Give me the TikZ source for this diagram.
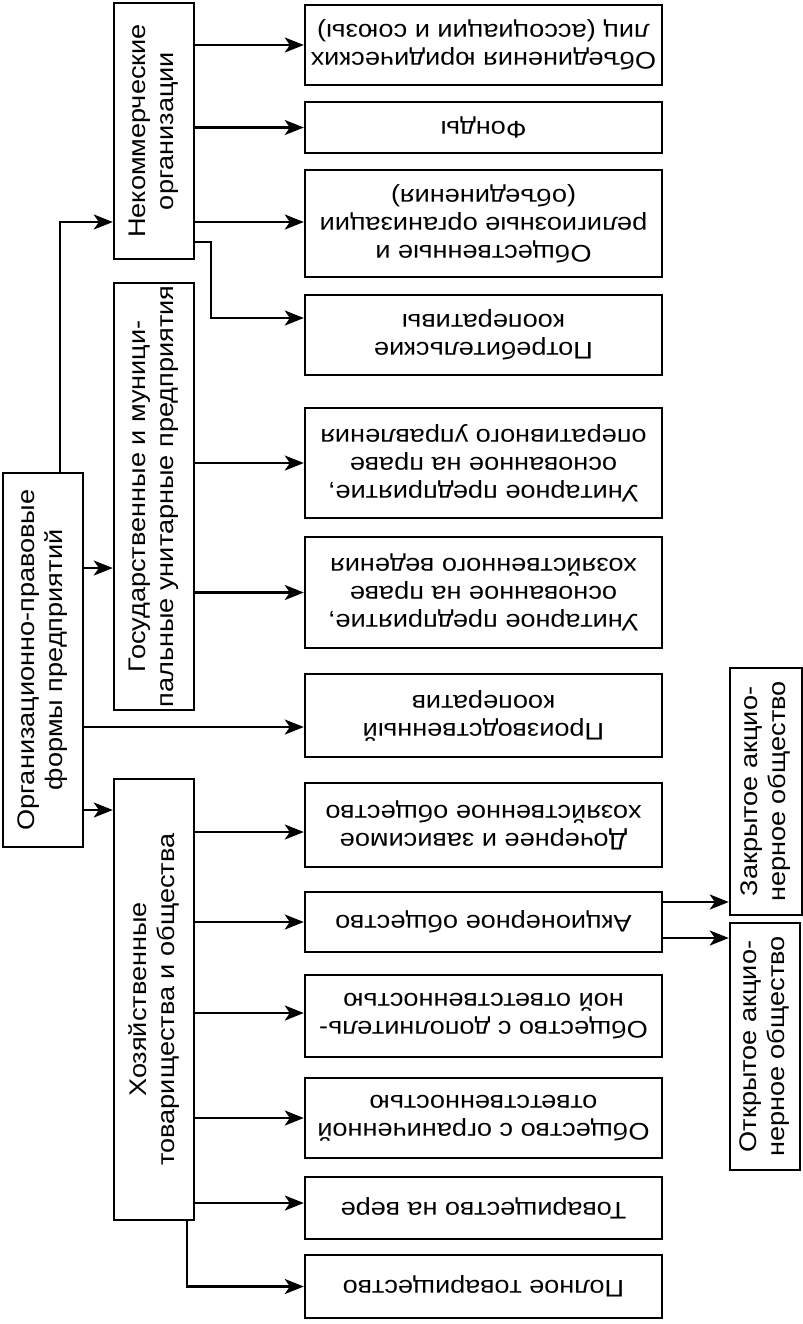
\documentclass[tikz,border=0pt]{standalone}
\usepackage{fontspec}
\setmainfont{Liberation Sans}[FakeStretch=1.13]
\usetikzlibrary{arrows.meta}

\tikzset{
  box/.style={draw, rectangle, line width=1.2pt, inner sep=1pt, align=center,
    font=\fontsize{12}{14}\selectfont},
  typebox/.style={box, rotate=90, minimum height=40pt},
  formbox/.style={box, rotate=180, minimum width=178.5pt},
  arr/.style={line width=1.1pt, -{Stealth[length=9.5pt,width=7.5pt,inset=2.5pt]}}
}

\begin{document}
\begin{tikzpicture}[x=0.5pt, y=-0.5pt]
	\useasboundingbox (0,0) rectangle (803,1324);

	% root and groups
	\node (root) [typebox, minimum width=187pt] at (43,660) {Организационно-правовые\\формы предприятий};
	\node (neko) [typebox, minimum width=128pt] at (154,131) {Некоммерческие\\организации};
	\node (gos) [typebox, minimum width=213.5pt] at (154,496.5) {Государственные и муници-\\пальные унитарные предприятия};
	\node (hoz) [typebox, minimum width=220.5pt] at (154,999.5) {Хозяйственные\\товарищества и общества};

	% forms
	\node (ojur) [formbox, minimum height=40pt] at (483.5,45) {Объединения юридических\\лиц (ассоциации и союзы)};
	\node (fond) [formbox, minimum height=25.5pt] at (483.5,127.5) {Фонды};
	\node (obsh) [formbox, minimum height=53.5pt] at (483.5,223.5) {Общественные и\\религиозные организации\\(объединения)};
	\node (potr) [formbox, minimum height=40pt] at (483.5,335) {Потребительские\\кооперативы};
	\node (unop) [formbox, minimum height=55pt] at (483.5,463) {Унитарное предприятие,\\основанное на праве\\оперативного управления};
	\node (unhz) [formbox, minimum height=55.5pt] at (483.5,592.5) {Унитарное предприятие,\\основанное на праве\\хозяйственного ведения};
	\node (proiz) [formbox, minimum height=41.5pt] at (483.5,715.5) {Производственный\\кооператив};
	\node (doch) [formbox, minimum height=42pt] at (483.5,825) {Дочернее и зависимое\\хозяйственное общество};
	\node (akc) [formbox, minimum height=30pt] at (483.5,922) {Акционерное общество};
	\node (odo) [formbox, minimum height=41pt] at (483.5,1016) {Общество с дополнитель-\\ной ответственностью};
	\node (ooo) [formbox, minimum height=40pt] at (483.5,1118) {Общество с ограниченной\\ответственностью};
	\node (tnv) [formbox, minimum height=31pt] at (483.5,1208) {Товарищество на вере};
	\node (ptov) [formbox, minimum height=31.5pt] at (483.5,1286.5) {Полное товарищество};

	% joint-stock types
	\node (zao) [box, rotate=90, minimum width=123.5pt, minimum height=36pt] at (766,791.5) {Закрытое акцио-\\нерное общество};
	\node (oao) [box, rotate=90, minimum width=123.5pt, minimum height=35pt] at (765,1046.5) {Открытое акцио-\\нерное общество};

	% root connections
	\draw[arr] (root.east -| 60,0) |- (neko.north |- 0,222);
	\draw[arr] (root.south |- 0,568) -- (gos.north |- 0,568);
	\draw[arr] (root.south |- 0,727) -- (proiz.east |- 0,727);
	\draw[arr] (root.south |- 0,810) -- (hoz.north |- 0,810);

	% non-commercial
	\draw[arr] (neko.south |- ojur.east) -- (ojur.east);
	\draw[arr] (neko.south |- fond.east) -- (fond.east);
	\draw[arr] (neko.south |- 0,222) -- (obsh.east |- 0,222);
	\draw[arr] (neko.south |- 0,242) -| (211,318) -- (potr.east |- 0,318);

	% unitary
	\draw[arr] (gos.south |- unop.east) -- (unop.east);
	\draw[arr] (gos.south |- unhz.east) -- (unhz.east);

	% partnerships and companies
	\draw[arr] (hoz.south |- 0,832) -- (doch.east |- 0,832);
	\draw[arr] (hoz.south |- akc.east) -- (akc.east);
	\draw[arr] (hoz.south |- 0,1013) -- (odo.east |- 0,1013);
	\draw[arr] (hoz.south |- ooo.east) -- (ooo.east);
	\draw[arr] (hoz.south |- 0,1203) -- (tnv.east |- 0,1203);
	\draw[arr] (hoz.west -| 187,0) |- (ptov.east);

	\draw[arr] (akc.west |- 0,902) -- (zao.north |- 0,902);
	\draw[arr] (akc.west |- 0,938) -- (oao.north |- 0,938);
\end{tikzpicture}
\end{document}
